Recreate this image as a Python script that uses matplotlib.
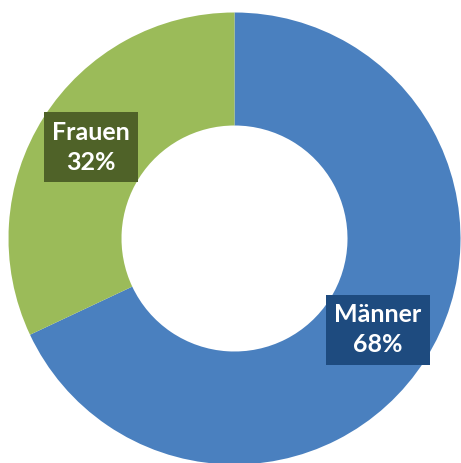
import matplotlib
matplotlib.use("Agg")
import matplotlib.pyplot as plt
import numpy as np

categories = ["Männer", "Frauen"]
values = [68, 32]
colors = ["#4A80BF", "#9BBB59"]
label_box_colors = ["#1E4B7F", "#4F6228"]

W, H = 461, 463
fig = plt.figure(figsize=(W / 100, H / 100), dpi=100)
ax = fig.add_axes([0, 0, 1, 1])

cx, cy, R = 234.5, 238.5, 226.0

wedges, _ = ax.pie(values, colors=colors, startangle=90, counterclock=False,
                   radius=1.0, wedgeprops=dict(width=0.5, linewidth=0))
ax.set_aspect("equal")
ax.set_xlim(-cx / R, (W - cx) / R)
ax.set_ylim((cy - H) / R, cy / R)
ax.axis("off")

total = sum(values)
for w, cat, v, bc in zip(wedges, categories, values, label_box_colors):
    ang = np.deg2rad((w.theta1 + w.theta2) / 2)
    x, y = 0.752 * np.cos(ang), 0.752 * np.sin(ang)
    ax.text(x, y, f"{cat}\n{round(100 * v / total)}%", ha="center", va="center",
            color="white", fontsize=18, fontweight="bold", family="Lato",
            linespacing=1.4, multialignment="center",
            bbox=dict(boxstyle="square,pad=0.33", facecolor=bc, edgecolor="none"))

fig.savefig("out.png", dpi=100)
